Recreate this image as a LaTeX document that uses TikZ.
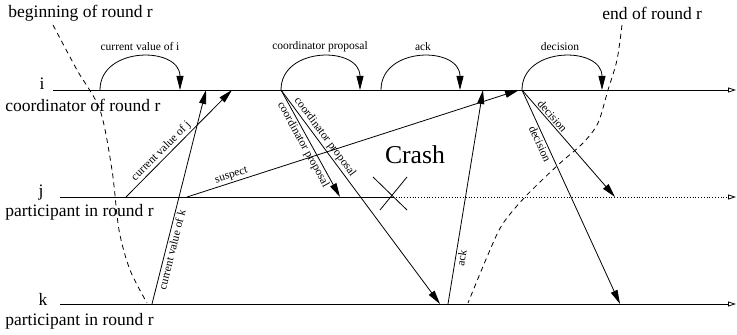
\documentclass[tikz,border=0pt]{standalone}
\usepackage{fontspec}
\setmainfont{Liberation Serif}
\usetikzlibrary{arrows.meta}

\begin{document}
\begin{tikzpicture}[x=1pt,y=1pt,line width=0.8pt,
 msg/.style={-{Triangle[length=14pt,width=7pt]}},
 timeline/.style={-{Triangle[open,length=8pt,width=5pt]}},
 lbl/.style={font=\fontsize{11.5}{13}\selectfont,inner sep=1.5pt},
 big/.style={font=\fontsize{17.5}{20}\selectfont,inner sep=0pt},
 roundedge/.style={dash pattern=on 5pt off 4pt}]
 \useasboundingbox (0,0) rectangle (737,335);
 % time lines of i, j and k
 \coordinate (i0) at (53,245); \coordinate (i1) at (736,245);
 \coordinate (j0) at (60,138); \coordinate (j1) at (736,138);
 \coordinate (k0) at (60,31);  \coordinate (k1) at (736,31);
 \coordinate (crash) at (393,138);
 \draw[timeline] (i0) -- (i1);
 \draw (j0) -- (crash);
 \draw[timeline,dotted] (crash) -- (j1);
 \draw[timeline] (k0) -- (k1);
 \node[big] (ni) at (42,251) {i};
 \node[big,anchor=west] (ri) at (5,230) {coordinator of round r};
 \node[big] (nj) at (41,142) {j};
 \node[big,anchor=west] (rj) at (5,123) {participant in round r};
 \node[big] (nk) at (43,36) {k};
 \node[big,anchor=west] (rk) at (5,14) {participant in round r};
 % round limits
 \node[big,anchor=west] (begin) at (8,322) {beginning of round r};
 \node[big,anchor=west] (end) at (602,322) {end of round r};
 \draw[roundedge] plot[smooth] coordinates
  {(53,310) (77,265) (100,225) (112,165) (119,105) (130,65) (147,32)};
 \draw[roundedge] plot[smooth] coordinates
  {(622,310) (617,275) (608,245) (598,212) (583,192) (558,170) (525,138) (502,110) (487,78) (468,32)};
 % events
 \coordinate (cvi0) at (100,245); \coordinate (cvi1) at (180,245);
 \coordinate (cvk1) at (206,245); \coordinate (cvj1) at (232,245);
 \coordinate (prop0) at (281,245); \coordinate (prop1) at (360,245);
 \coordinate (ack0) at (381,245); \coordinate (ack1) at (460,245);
 \coordinate (acki) at (483,245); \coordinate (susi) at (519,245);
 \coordinate (dec0) at (522,245); \coordinate (dec1) at (602,245);
 \coordinate (cvj0) at (126,138); \coordinate (susj) at (187,138);
 \coordinate (propj) at (340,138); \coordinate (decj) at (615,138);
 \coordinate (cvk0) at (152,31); \coordinate (propk) at (440,31);
 \coordinate (ackk) at (448,31); \coordinate (deck) at (620,31);
 % local steps of the coordinator
 \draw[msg] (cvi0) .. controls +(0,44) and +(0,44) .. (cvi1);
 \draw[msg] (prop0) .. controls +(0,44) and +(0,44) .. (prop1);
 \draw[msg] (ack0) .. controls +(0,44) and +(0,44) .. (ack1);
 \draw[msg] (dec0) .. controls +(0,44) and +(0,44) .. (dec1);
 \node[lbl] (lcvi) at (140,288) {current value of i};
 \node[lbl] (lprop) at (320,288) {coordinator proposal};
 \node[lbl] (lack) at (423,288) {ack};
 \node[lbl] (ldec) at (560,288) {decision};
 % messages
 \draw[msg] (cvj0) -- node[lbl,sloped,above,pos=.38] (lcvj) {current value of j} (cvj1);
 \draw[msg] (cvk0) -- node[lbl,sloped,below,pos=.26] (lcvk) {current value of k} (cvk1);
 \draw[msg] (susj) -- node[lbl,sloped,above,pos=.14] (lsus) {suspect} (susi);
 \draw[msg] (prop0) -- node[lbl,sloped,below,pos=.48] (lpropj) {coordinator proposal} (propj);
 \draw[msg] (prop0) -- node[lbl,sloped,above,pos=.24] (lpropk) {coordinator proposal} (propk);
 \draw[msg] (ackk) -- node[lbl,sloped,below,pos=.22] (lackk) {ack} (acki);
 \draw[msg] (dec0) -- node[lbl,sloped,above,pos=.28] (ldecj) {decision} (decj);
 \draw[msg] (dec0) -- node[lbl,sloped,below,pos=.24] (ldeck) {decision} (deck);
 % crash of j
 \draw ([shift={(-20,20)}]crash) -- ([shift={(14,-13)}]crash);
 \draw ([shift={(14,20)}]crash) -- ([shift={(-13,-13)}]crash);
 \node[font=\fontsize{25.7}{28}\selectfont] (lcrash) at (415,180) {Crash};
\end{tikzpicture}
\end{document}
